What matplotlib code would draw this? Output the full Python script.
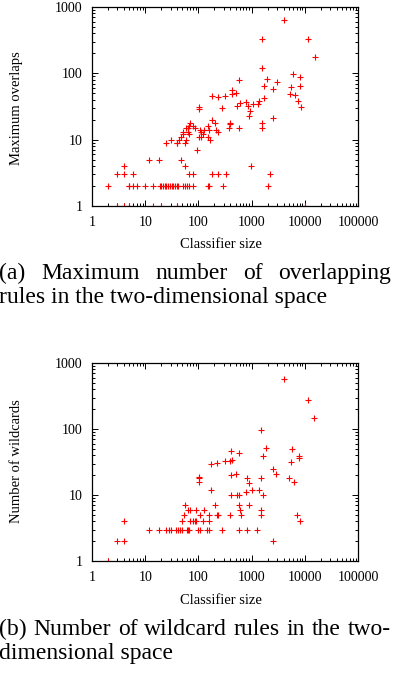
import matplotlib
matplotlib.use("Agg")
import matplotlib.pyplot as plt
from matplotlib.ticker import FixedLocator, NullFormatter, LogLocator

plt.rcParams['font.family'] = ['Liberation Serif', 'DejaVu Serif']

# (a) classifier size vs maximum overlaps
top_size = [4100, 1545, 11580, 15270, 1545, 5900, 8200, 580, 1920, 2960, 1710, 5560, 8090,
            423, 510, 423, 178, 230, 317, 2550, 5250, 6440, 1710, 1395, 7330, 605, 785,
            525, 867, 1050, 1300, 8450, 103, 103, 282, 933, 893, 178, 2520, 1545, 1545,
            70, 80, 87, 67, 58, 64, 51, 64, 67, 108, 130, 110, 154, 161, 215, 230, 206,
            124, 101, 110, 154, 165, 30, 40, 43, 47, 51, 25, 39, 56, 58, 93,
            393, 393, 380, 575,
            12, 18, 47, 4, 57, 980,
            3, 4, 6, 66, 80, 180, 230, 325, 2200,
            2, 5, 5, 6, 7, 10, 14, 19, 20, 22, 24, 25, 27, 29, 32, 34, 36, 39, 42, 51, 56,
            62, 67, 80, 150, 160, 295, 2000,
            3, 4, 5, 14, 20, 40, 10000]
top_overlaps = [640, 327, 334, 177, 121, 98, 87, 78, 83, 73, 64, 63, 65,
                56, 50, 49, 46, 44, 45, 58, 49, 47, 43, 38, 38, 36, 37,
                32, 32, 35, 34, 31, 31, 29, 30, 27, 23, 20, 21, 18, 15,
                18, 16, 15, 16, 15, 15, 13, 13, 12, 14, 14, 13, 16, 14, 14, 13, 18,
                12, 11, 11, 11, 10, 10, 9, 10, 11, 12, 9, 9, 9, 10, 7,
                18, 17, 15, 15,
                5, 5, 5, 4, 4, 4,
                3, 3, 3, 3, 3, 3, 3, 3, 3,
                2, 2, 2, 2, 2, 2, 2, 2, 2, 2, 2, 2, 2, 2, 2, 2, 2, 2, 2, 2, 2,
                2, 2, 2, 2, 2, 2, 2,
                1, 1, 1, 1, 1, 1, 1]

# (b) classifier size vs number of wildcards
bottom_size = [2, 3, 4, 4,
               12, 18, 25, 28, 31, 38, 42, 45, 50, 60, 64, 67, 99, 106, 148, 159, 278, 577, 826, 1250,
               50, 69, 80, 86, 92, 123, 159, 8200,
               54, 106, 159, 220, 233, 387, 620, 1510, 7130,
               63, 69, 89, 128, 600, 1530,
               57, 205, 570, 876,
               409, 522, 583, 1672, 770, 175, 1030, 1350, 902, 6230,
               101, 101, 101, 404, 508, 2495, 2865, 804, 1532, 5100,
               175, 228, 313, 393, 431, 5500, 7800, 7800,
               409, 570, 1672, 1876, 5660, 1510, 3980, 11280, 14700, 2495]
bottom_wildcards = [1, 2, 2, 4,
                    3, 3, 3, 3, 3, 3, 3, 3, 3, 3, 3, 3, 3, 3, 3, 3, 3, 3, 3, 3,
                    4, 4, 4, 4, 4, 4, 4, 4,
                    5, 5, 5, 5, 5, 5, 5, 5, 5,
                    6, 6, 6, 6, 6, 6,
                    7, 7, 7, 7,
                    10, 10, 10, 10, 11, 12, 12, 12, 15, 16,
                    16, 18, 19, 20, 21, 25, 21, 18, 18, 18,
                    30, 31, 33, 33, 34, 32, 39, 36,
                    46, 44, 39, 52, 49, 95, 578, 277, 146, 2]

x_ticks = [1, 10, 100, 1000, 10000, 100000]
x_labels = ['1', '10', '100', '1000', '10000', '100000']
y_ticks = [1, 10, 100, 1000]
y_labels = ['1', '10', '100', '1000']

caption_a = ['(a) Maximum number of overlapping', 'rules in the two-dimensional space']
caption_b = ['(b) Number of wildcard rules in the two-', 'dimensional space']

W, H = 394, 673
fig = plt.figure(figsize=(W / 100, H / 100), dpi=100)
renderer = fig.canvas.get_renderer()


def box(left, top, right, bottom):
    return [left / W, 1 - bottom / H, (right - left) / W, (bottom - top) / H]


def label(x, y, s, **kw):
    # place text by pixel position (from top-left)
    return fig.text(x / W, 1 - y / H, s, **kw)


def justify(line, y, left, right, **kw):
    # spread words of a line across [left, right] like a justified paragraph
    words = line.split()
    texts = [label(0, y, w, **kw) for w in words]
    widths = [t.get_window_extent(renderer).width for t in texts]
    gap = (right - left - sum(widths)) / (len(words) - 1)
    x = left
    for t, w in zip(texts, widths):
        t.set_x(x / W)
        x += w + gap


def make_axes(rect, xs, ys):
    ax = fig.add_axes(rect)
    ax.plot(xs, ys, '+', color='red', ms=4, mew=0.8)
    ax.set_xscale('log')
    ax.set_yscale('log')
    ax.set_xlim(1, 100000)
    ax.set_ylim(1, 1000)
    ax.xaxis.set_major_locator(FixedLocator(x_ticks))
    ax.set_xticklabels(x_labels)
    ax.yaxis.set_major_locator(FixedLocator(y_ticks))
    ax.set_yticklabels(y_labels)
    for axis in (ax.xaxis, ax.yaxis):
        axis.set_minor_locator(LogLocator(base=10, subs=range(2, 10), numticks=20))
        axis.set_minor_formatter(NullFormatter())
    ax.tick_params(which='both', direction='in', top=True, right=True,
                   labelsize=10, pad=7, width=0.7)
    ax.tick_params(which='major', length=4)
    ax.tick_params(which='minor', length=2)
    for s in ax.spines.values():
        s.set_linewidth(0.9)
    return ax


ax1 = make_axes(box(92, 7, 358, 206), top_size, top_overlaps)
ax2 = make_axes(box(92, 363, 358, 561), bottom_size, bottom_wildcards)

lab = dict(fontsize=10.5, ha='center', va='center')
label(17, 108, 'Maximum overlaps', rotation=90, **lab)
label(221, 245, 'Classifier size', **lab)
label(17, 461, 'Number of wildcards', rotation=90, **lab)
label(221, 600, 'Classifier size', **lab)

cap = dict(fontsize=17, va='baseline', ha='left')
justify(caption_a[0], 279, -1, 391, **cap)
label(-1, 303, caption_a[1], **cap)
justify(caption_b[0], 635, -1, 391, **cap)
label(-1, 659, caption_b[1], **cap)

fig.savefig('out.png', dpi=100)
